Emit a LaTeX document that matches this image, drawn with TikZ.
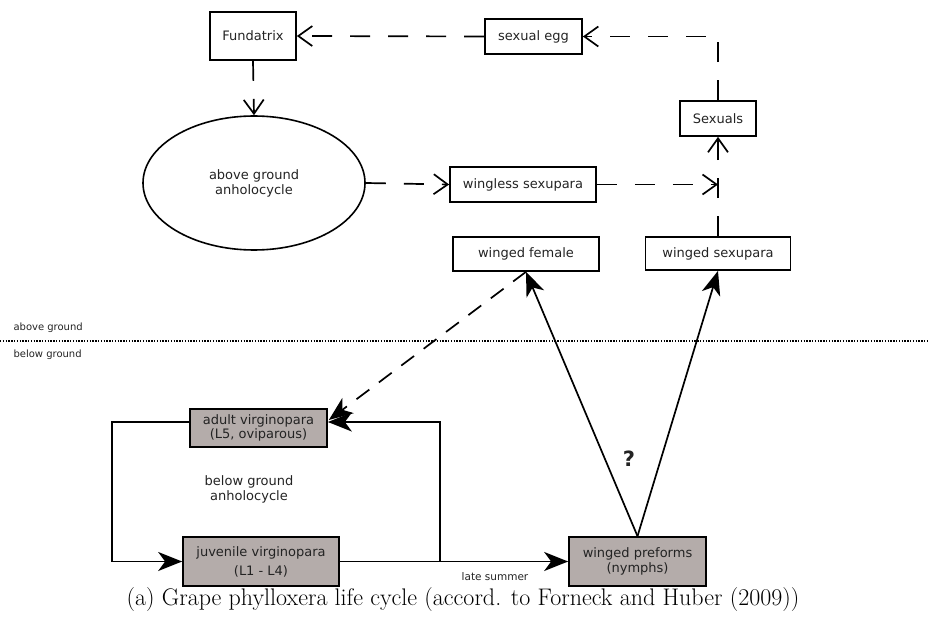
\documentclass[tikz,border=0pt]{standalone}
\usepackage{fontspec}
\newfontfamily\dv{DejaVu Sans}
\usetikzlibrary{arrows.meta,shapes.geometric}
\definecolor{boxgray}{RGB}{180,172,170}
\definecolor{txt}{RGB}{35,35,35}
\begin{document}
\begin{tikzpicture}[x=1pt,y=-1pt,
  every node/.style={font=\dv\fontsize{13}{15}\selectfont, text=txt},
  box/.style={draw, line width=1.7pt, rectangle, inner sep=0pt, align=center},
  gbox/.style={box, fill=boxgray},
  ell/.style={draw, line width=1.6pt, ellipse, inner sep=0pt, align=center},
  dashA/.style={line width=1.7pt, dash pattern=on 20pt off 18pt},
  dashB/.style={line width=1.7pt, dash pattern=on 16pt off 12pt},
  solidL/.style={line width=1.7pt},
  openhead/.style={-{Straight Barb[length=14pt,width=20pt]}},
  fillhead/.style={-{Stealth[length=24pt,width=19pt,inset=7pt]}},
  groundline/.style={line width=1.2pt, dash pattern=on 1.4pt off 1.4pt},
  small/.style={font=\dv\fontsize{10}{12}\selectfont, anchor=west}
]
\useasboundingbox (0,0) rectangle (929,628);

% upper nodes
\node[box, minimum width=86pt, minimum height=48pt] (fund) at (253,36) {Fundatrix};
\node[box, minimum width=97pt, minimum height=35pt] (egg) at (533.5,36.5) {sexual egg};
\node[box, minimum width=76pt, minimum height=35pt] (sex) at (718,118.5) {Sexuals};
\node[ell, minimum width=222pt, minimum height=134pt] (ag) at (254,183) {above ground\\anholocycle};
\node[box, minimum width=146pt, minimum height=35pt] (wless) at (523,184.5) {wingless sexupara};
\node[box, minimum width=146pt, minimum height=34pt] (wfem) at (526,254) {winged female};
\node[box, minimum width=145pt, minimum height=33pt] (wsex) at (718,253.5) {winged sexupara};

% lower nodes
\node[gbox, minimum width=137pt, minimum height=38pt, font=\dv\fontsize{13}{13.5}\selectfont] (adult) at (258.5,428) {adult virginopara\\(L5, oviparous)};
\node[gbox, minimum width=156pt, minimum height=49pt, font=\dv\fontsize{13}{19}\selectfont] (juv) at (261,561.5) {juvenile virginopara\\(L1 - L4)};
\node[gbox, minimum width=137pt, minimum height=49pt] (wpre) at (637.5,561.5) {winged preforms\\(nymphs)};

% labels
\node[align=center] (bga) at (249,489) {below ground\\anholocycle};
\node[font=\dv\fontsize{10.5}{12}\selectfont] (late) at (495,577) {late summer};
\node[font=\dv\bfseries\fontsize{21}{24}\selectfont] (q) at (629,459) {?};
\node[small] (abg) at (10,328) {above ground};
\node[small] (blg) at (10,355) {below ground};
\node[font=\fontsize{24}{28}\selectfont, text=black] (cap) at (463,600) {(a) Grape phylloxera life cycle (accord. to Forneck and Huber (2009))};

% ground line
\coordinate (gl) at (0,341);
\coordinate (gr) at (929,341);
\draw[groundline] (gl) -- (gr);

% helper coordinates
\coordinate (c1) at (sex.north |- egg.east);
\coordinate (j1) at (wsex.north |- wless.east);
\coordinate (aE) at ([yshift=6pt]adult.east);
\coordinate (aW) at ([yshift=6pt]adult.west);
\coordinate (aT) at ([yshift=8pt,xshift=1pt]adult.east);
\coordinate (r1) at (440,561.5);
\coordinate (r2) at (r1 |- aE);
\coordinate (l1) at (112,0 |- aW);
\coordinate (l2) at (l1 |- juv.west);

% upper dashed connectors
\draw[dashA, openhead] (egg.west) -- (fund.east);
\draw[dashA, openhead] (sex.north) -- (c1) -- (egg.east);
\draw[dashA, openhead] (fund.south) -- (ag.north);
\draw[dashA, openhead] (ag.east) -- (wless.west);
\draw[dashA, openhead] (wless.east) -- (j1);
\draw[dashA, openhead] (wsex.north) -- (sex.south);

% lower connectors
\draw[solidL, fillhead] (wpre.north) -- (wfem.south);
\draw[solidL, fillhead] (wpre.north) -- (wsex.south);
\draw[dashB, fillhead] (wfem.south) -- (aT);
\draw[solidL, fillhead] (juv.east) -- (wpre.west);
\draw[solidL, fillhead] (r1) -- (r2) -- (aE);
\draw[solidL, fillhead] (aW) -- (l1) -- (l2) -- (juv.west);
\end{tikzpicture}
\end{document}
